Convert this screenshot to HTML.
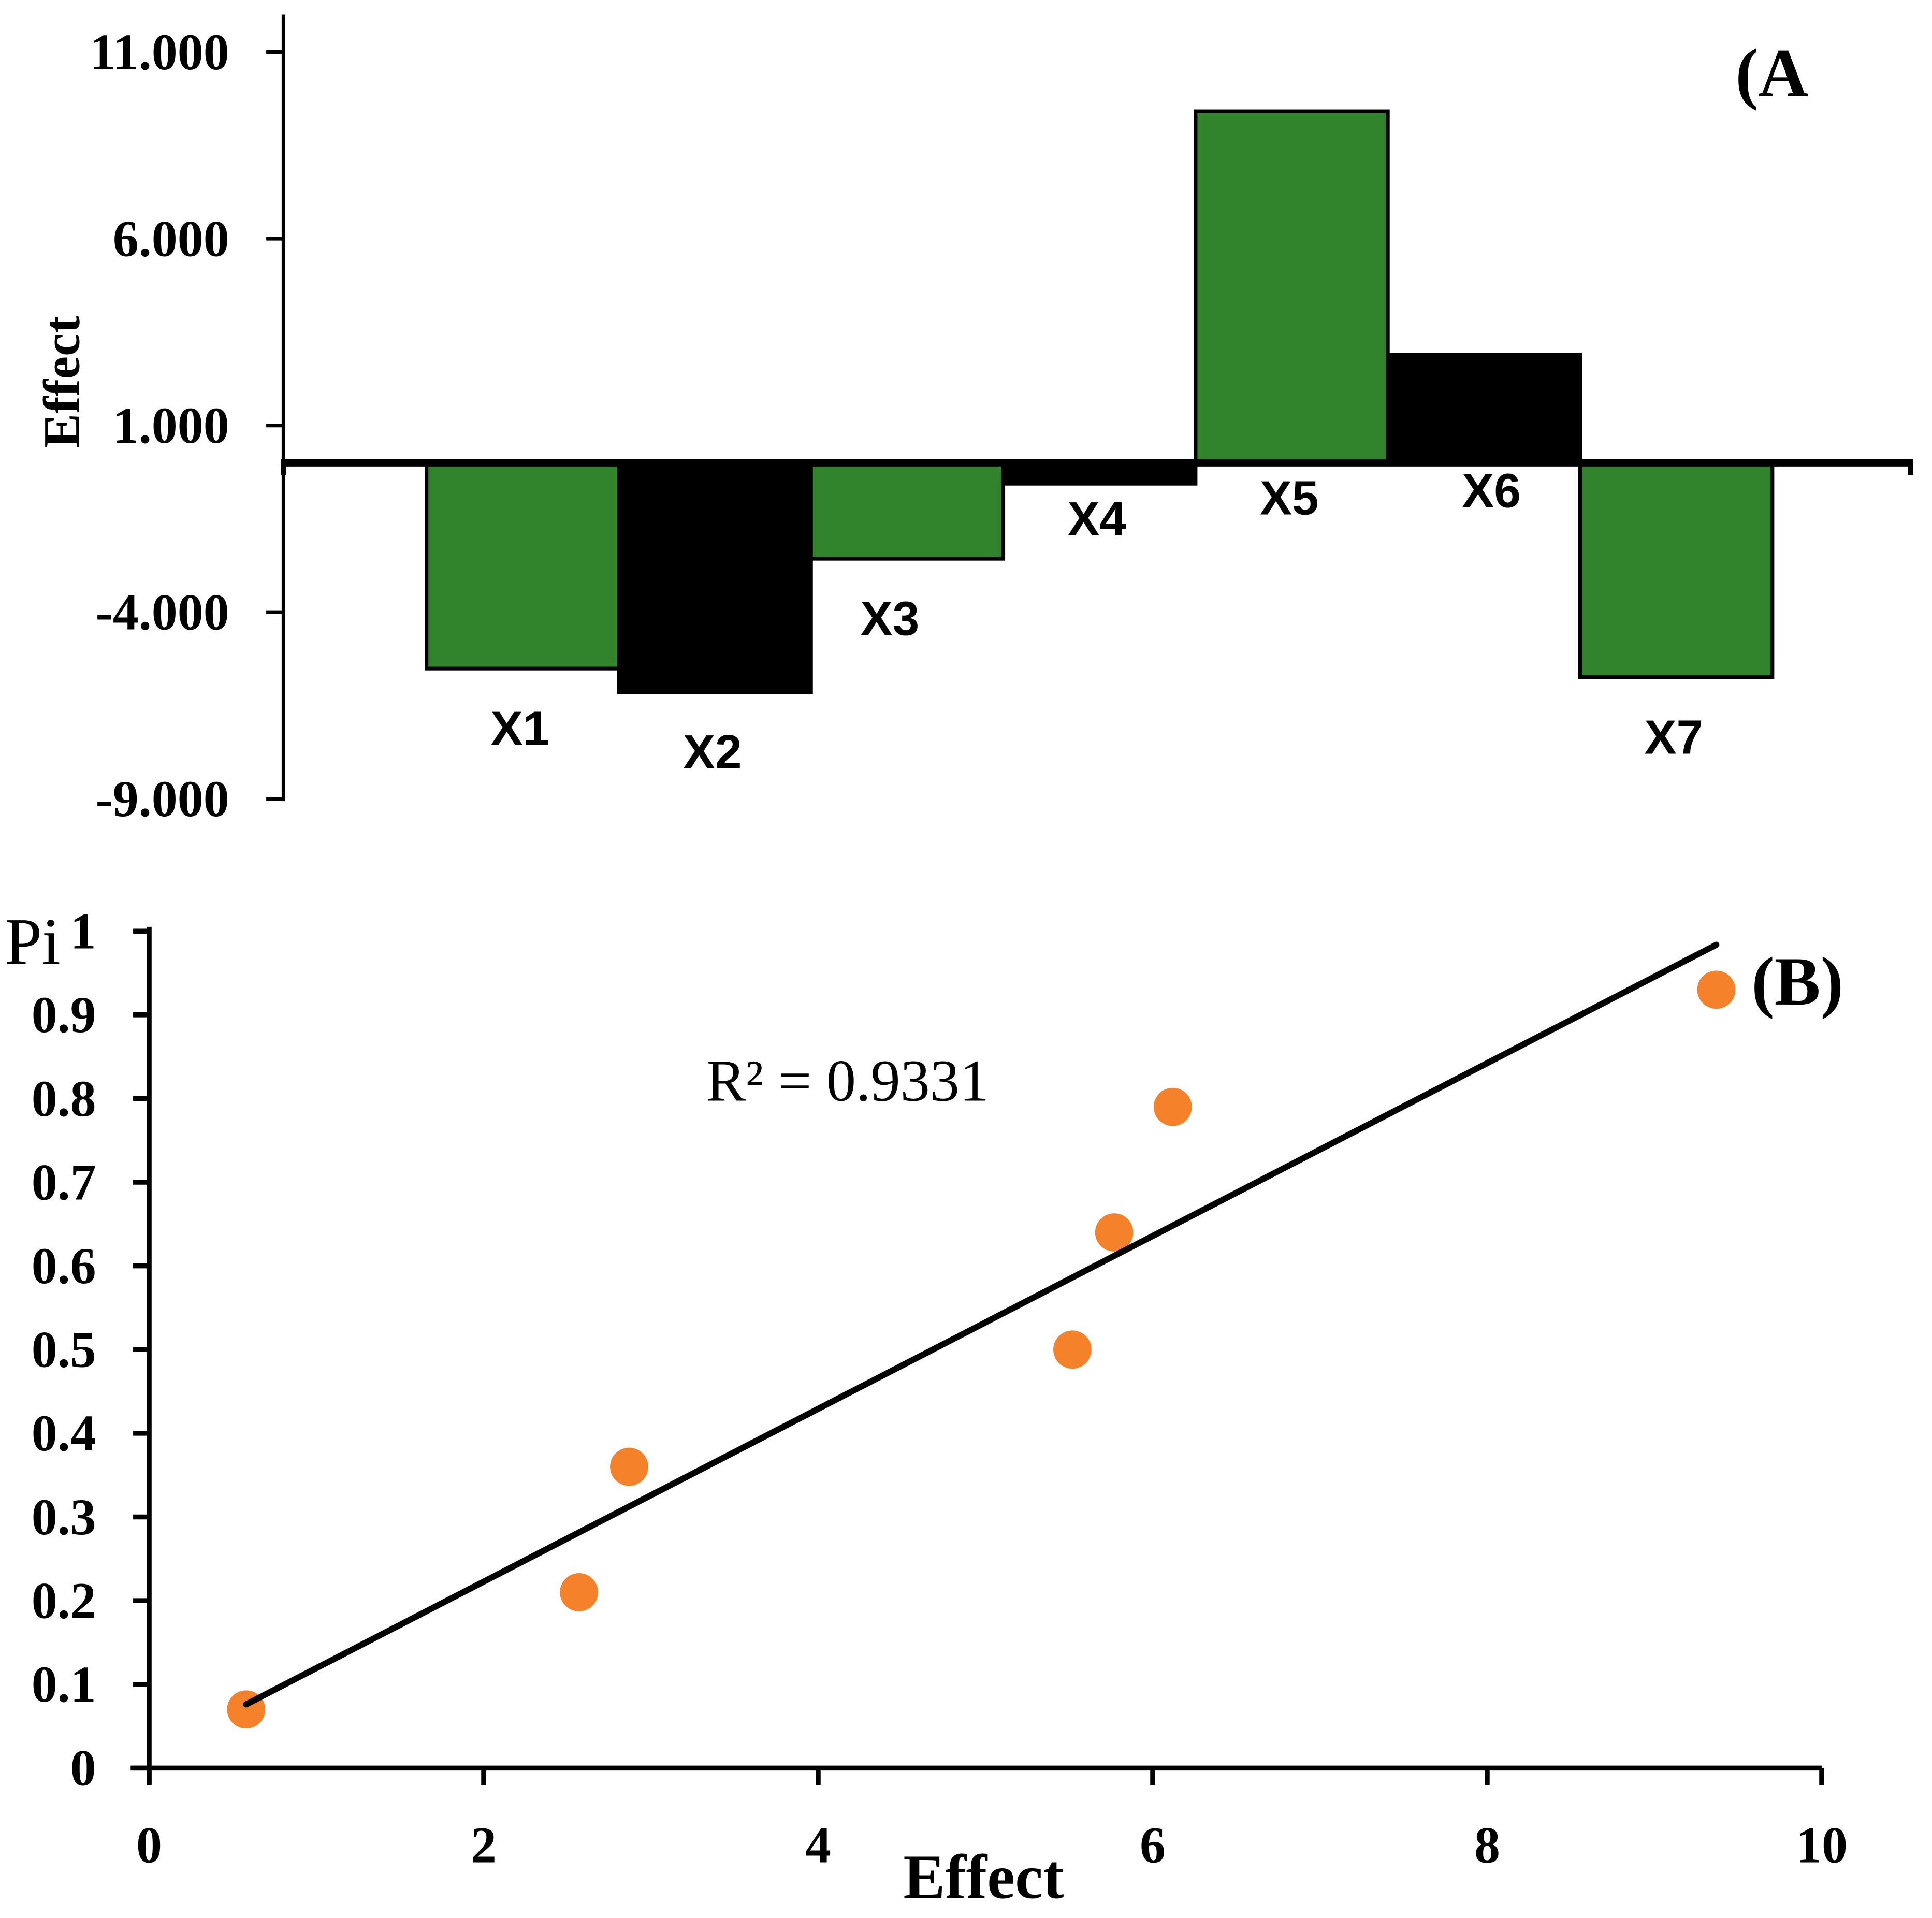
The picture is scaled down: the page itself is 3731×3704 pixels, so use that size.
<!DOCTYPE html>
<html><head><meta charset="utf-8"><style>
html,body{margin:0;padding:0;background:#fff}
svg{display:block}
.tk{font-family:"Liberation Serif",serif;font-weight:bold;font-size:42px}
.cat{font-family:"Liberation Sans",sans-serif;font-weight:bold;font-size:39px}
</style></head><body>
<svg id="chart" xmlns="http://www.w3.org/2000/svg" width="3731" height="3704" viewBox="0 0 1567.5 1556.2" preserveAspectRatio="none">
<g id="A"></g>
<g id="B"></g>
</svg>
<script>
const barCats = ["X1","X2","X3","X4","X5","X6","X7"];
const barVals = [-5.51,-6.14,-2.57,-0.56,9.41,2.9,-5.74];
const barColors = ["green","black","green","black","green","black","green"];
const aTicks = [11,6,1,-4,-9];
const aTickLabels = ["11.000","6.000","1.000","-4.000","-9.000"];
const ptX = [0.58,2.57,2.87,5.52,5.77,6.12,9.37];
const ptY = [0.07,0.21,0.36,0.5,0.64,0.79,0.93];
const bYTicks = [0,0.1,0.2,0.3,0.4,0.5,0.6,0.7,0.8,0.9,1];
const bYLabels = ["0","0.1","0.2","0.3","0.4","0.5","0.6","0.7","0.8","0.9","1"];
const bXTicks = [0,2,4,6,8,10];
const r2Label = "R² = 0.9331";

const NS="http://www.w3.org/2000/svg";
function mk(p,tag,at,txt){const e=document.createElementNS(NS,tag);for(const k in at)e.setAttribute(k,at[k]);if(txt!==undefined)e.textContent=txt;p.appendChild(e);return e;}
const A=document.getElementById('A'), B=document.getElementById('B');
const ay=v=>375.5-v*30.3;
const bx=i=>346+i*156;
let e;
e=mk(A,'line',{x1:230,y1:12,x2:230,y2:650,stroke:'#000','stroke-width':3});

aTicks.forEach((t,i)=>{
  mk(A,'line',{x1:216,x2:230,y1:ay(t),y2:ay(t),stroke:'#000','stroke-width':3});
  e=mk(A,'text',{x:186,y:ay(t)+14,'text-anchor':'end',class:'tk'},aTickLabels[i]);
  
});
barVals.forEach((v,i)=>{
  const y0=ay(0),y1=ay(v);
  e=mk(A,'rect',{x:bx(i),y:Math.min(y0,y1),width:156,height:Math.abs(y1-y0),fill:barColors[i]==='green'?'#31832b':'#000',stroke:'#000','stroke-width':3});
  
  const ly = v<0 ? Math.max(y1,y0)+ (Math.abs(v)<1?42:62) : y0+(v>5?42:36);
  e=mk(A,'text',{x:bx(i)+76-(i===2?12:0)+(i===5?8:0),y:ly,'text-anchor':'middle',class:'cat'},barCats[i]);
  
});
e=mk(A,'line',{x1:228,y1:ay(0),x2:1552,y2:ay(0),stroke:'#000','stroke-width':6});

mk(A,'line',{x1:230,y1:ay(0),x2:230,y2:ay(0)+10,stroke:'#000','stroke-width':4});
mk(A,'line',{x1:1550,y1:ay(0),x2:1550,y2:ay(0)+10,stroke:'#000','stroke-width':4});
e=mk(A,'text',{x:0,y:0,transform:'translate(64,310) rotate(-90)','text-anchor':'middle',class:'tk'},'Effect');

e=mk(A,'text',{x:1408,y:78,class:'tk',style:'font-size:56px'},'(A');

const px=v=>121+v*135.7, py=v=>1434.5-v*679;
e=mk(B,'line',{x1:121,y1:752,x2:121,y2:1448,stroke:'#000','stroke-width':4});

e=mk(B,'line',{x1:106,y1:py(0),x2:1478,y2:py(0),stroke:'#000','stroke-width':4});

bYTicks.forEach((t,i)=>{
  mk(B,'line',{x1:108,x2:121,y1:py(t),y2:py(t),stroke:'#000','stroke-width':4});
  e=mk(B,'text',{x:78,y:py(t)+14,'text-anchor':'end',class:'tk'},bYLabels[i]);
  
});
bXTicks.forEach(t=>{
  mk(B,'line',{x1:px(t),x2:px(t),y1:py(0),y2:py(0)+14,stroke:'#000','stroke-width':4});
  e=mk(B,'text',{x:px(t),y:1511,'text-anchor':'middle',class:'tk'},String(t));
  
});
const n=ptX.length,mx=ptX.reduce((a,b)=>a+b)/n,my=ptY.reduce((a,b)=>a+b)/n;
let sxy=0,sxx=0;for(let i=0;i<n;i++){sxy+=(ptX[i]-mx)*(ptY[i]-my);sxx+=(ptX[i]-mx)**2;}
const sl=sxy/sxx,ic=my-sl*mx,xmin=Math.min(...ptX),xmax=Math.max(...ptX);
ptX.forEach((x,i)=>{
  e=mk(B,'circle',{cx:px(x),cy:py(ptY[i]),r:15.5,fill:'#f5822a'});
  
});
e=mk(B,'line',{x1:px(xmin),y1:py(ic+sl*xmin),x2:px(xmax),y2:py(ic+sl*xmax),stroke:'#000','stroke-width':5,'stroke-linecap':'round'});

e=mk(B,'text',{x:573,y:893,'font-family':'"Liberation Serif",serif','font-size':'48'},r2Label);

e=mk(B,'text',{x:1421,y:815,class:'tk',style:'font-size:56px'},'(B)');

e=mk(B,'text',{x:4,y:782,'font-family':'"Liberation Serif",serif','font-size':'54'},'Pi');

e=mk(B,'text',{x:798,y:1540,'text-anchor':'middle',class:'tk',style:'font-size:51px'},'Effect');

</script>
</body></html>
